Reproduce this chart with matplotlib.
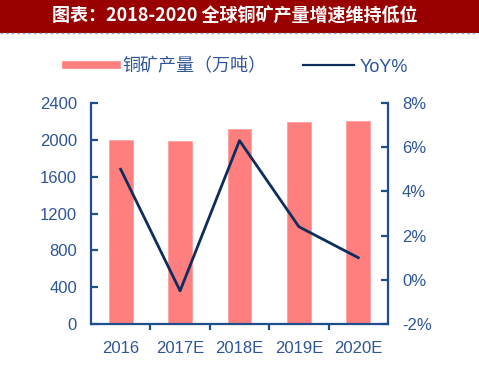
import matplotlib.pyplot as plt
from matplotlib.lines import Line2D
from matplotlib.patches import Rectangle

plt.rcParams['font.family'] = ['Liberation Sans', 'Noto Sans CJK SC']

years = ['2016', '2017E', '2018E', '2019E', '2020E']
output = [2000, 1990, 2120, 2190, 2200]   # 铜矿产量（万吨）
yoy = [5.0, -0.5, 6.3, 2.4, 1.0]          # YoY %

bar_color = '#FF7F7F'
line_color = '#0F2D5C'
axis_color = '#1F4E8C'
text_color = '#2F5597'

fig = plt.figure(figsize=(4.79, 3.65), dpi=100)

# title bar
fig.patches.append(Rectangle((0, 1 - 33 / 365), 1, 33 / 365, transform=fig.transFigure,
                             facecolor='#990000', edgecolor='none', zorder=0))
fig.add_artist(Line2D([0, 1], [1 - 33 / 365] * 2, transform=fig.transFigure,
                      color='#8FA8D8', lw=1, ls=(0, (2, 2))))
fig.text(0.49, 1 - 16 / 365, '图表：2018-2020 全球铜矿产量增速维持低位', color='white',
         fontsize=13, fontweight='bold', ha='center', va='center',
         family=['Noto Sans CJK SC'])

ax = fig.add_axes([91 / 479, 41 / 365, 297 / 479, 221 / 365])
x = range(len(years))
ax.bar(x, output, width=0.4, color=bar_color, edgecolor='#FFA0A0', linewidth=0.6)
ax.set_ylim(0, 2400)
ax.set_yticks(range(0, 2401, 400))
ax.set_xlim(-0.5, 4.5)
ax.set_xticks(x)
ax.set_xticklabels(years)
ax.set_xticks([0.5, 1.5, 2.5, 3.5], minor=True)

ax2 = ax.twinx()
ax2.plot(x, yoy, color=line_color, lw=2)
ax2.set_ylim(-2, 8)
ax2.set_yticks(range(-2, 9, 2))
ax2.set_yticklabels([f'{v}%' for v in range(-2, 9, 2)])

for a in (ax, ax2):
    for s in a.spines.values():
        s.set_color(axis_color)
        s.set_linewidth(1.6)
    a.spines['top'].set_visible(False)
ax.spines['right'].set_visible(False)
ax2.spines['left'].set_visible(False)
ax2.spines['bottom'].set_visible(False)

ax.tick_params(axis='y', direction='in', length=5, width=1.6, color=axis_color,
               labelcolor=text_color, labelsize=12, pad=10)
ax2.tick_params(axis='y', direction='in', length=5, width=1.6, color=axis_color,
                labelcolor=text_color, labelsize=12, pad=10)
ax.tick_params(axis='x', which='major', length=0, labelcolor=text_color,
               labelsize=12, pad=12)
ax.tick_params(axis='x', which='minor', direction='out', length=4, width=1.6,
               color=axis_color)

handles = [Line2D([], [], color=bar_color, lw=5.5),
           Line2D([], [], color=line_color, lw=1.6)]
leg = fig.legend(handles, ['铜矿产量（万吨）', 'YoY%'], loc='center',
                 bbox_to_anchor=(0.495, 1 - 67 / 365), ncol=2, frameon=False,
                 fontsize=13, handlelength=2.8, handletextpad=0.35,
                 columnspacing=2.0)
for t in leg.get_texts():
    t.set_color(text_color)

fig.savefig('out.png', dpi=100, facecolor='white')
